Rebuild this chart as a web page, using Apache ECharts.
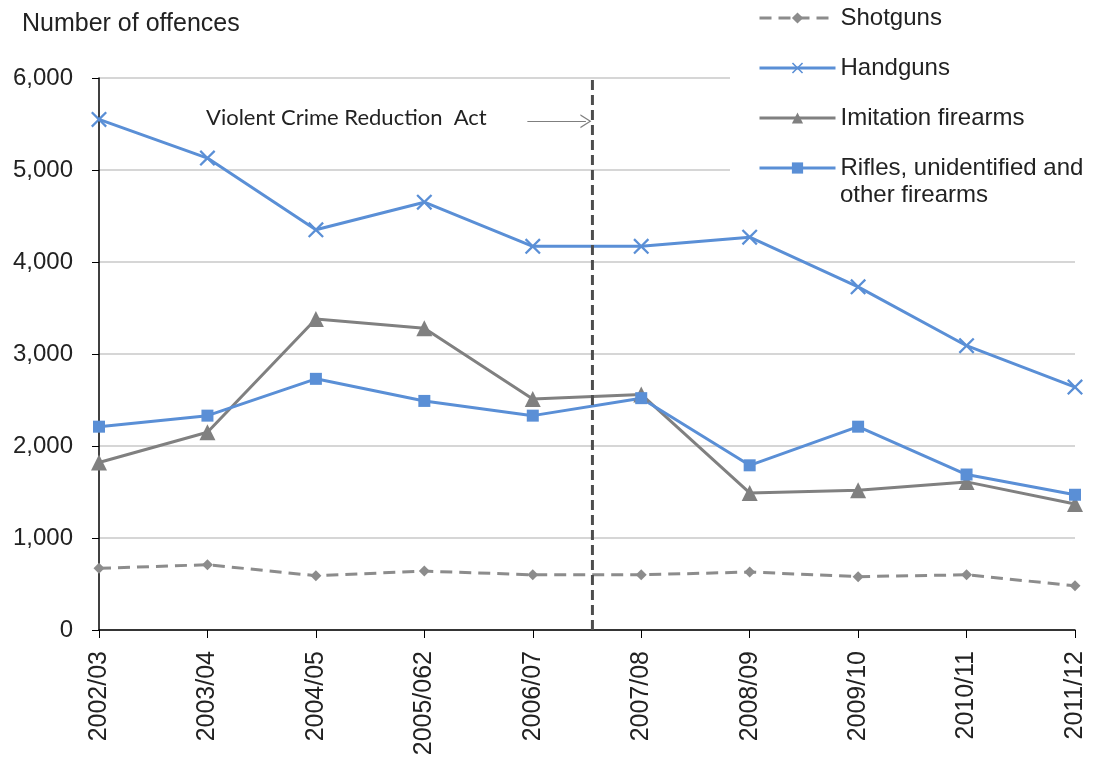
<!DOCTYPE html>
<html>
<head>
<meta charset="utf-8">
<script src="https://cdn.jsdelivr.net/npm/echarts@6/dist/echarts.min.js"></script>
<style>
  html, body { margin: 0; padding: 0; background: #fff; }
  #chart { width: 1103px; height: 764px; }
</style>
</head>
<body>
<div id="chart"></div>
<script>
// categories (financial years)
const years = ['2002/03', '2003/04', '2004/05', '2005/062', '2006/07', '2007/08', '2008/09', '2009/10', '2010/11', '2011/12'];

// series values
const shotguns = [670, 710, 590, 640, 600, 600, 630, 580, 600, 480];
const handguns = [5550, 5130, 4350, 4650, 4170, 4170, 4270, 3730, 3090, 2640];
const imitation = [1820, 2150, 3380, 3280, 2510, 2560, 1490, 1520, 1610, 1370];
const rifles = [2210, 2330, 2730, 2490, 2330, 2520, 1790, 2210, 1690, 1470];

// the act marker sits a little past the middle of 2006/07 and 2007/08
const actPosition = 4.55;
const arrowFrom = [3.95, 5530];
const arrowTo = [4.49, 5530];

const riflesName = 'Rifles, unidentified and other firearms';

const blue = '#5a8fd6';
const grey = '#808080';
const font = '"Liberation Sans", Arial, sans-serif';

const crossPath = 'path://M0,1L1,0L5,4L9,0L10,1L6,5L10,9L9,10L5,6L1,10L0,9L4,5Z';
const openArrow = 'path://M5,0L10,10L9,10L5,2L1,10L0,10Z';

const myChart = echarts.init(document.getElementById('chart'));

const option = {
    animation: false,
    textStyle: { fontFamily: font },
    grid: { left: 99, right: 28, top: 78, bottom: 134 },
    legend: {
        data: ['Shotguns', 'Handguns', 'Imitation firearms', riflesName],
        orient: 'vertical',
        left: 730,
        top: 0,
        padding: [3, 80, 14, 28],
        backgroundColor: '#fff',
        itemWidth: 76,
        itemHeight: 14,
        itemGap: 20,
        z: 10,
        lineStyle: { width: 3 },
        formatter: name => name === riflesName ? 'Rifles, unidentified and' : name,
        textStyle: { fontSize: 24, color: '#222', fontFamily: font, lineHeight: 30 }
    },
    graphic: [
        {
            type: 'text',
            left: 22,
            top: 12,
            style: { text: 'Number of offences', fontSize: 25, fill: '#222', fontFamily: font }
        },
        {
            type: 'text',
            left: 840,
            top: 183,
            z: 20,
            style: { text: 'other firearms', fontSize: 24, fill: '#222', fontFamily: font }
        },
        {
            type: 'text',
            left: 206,
            top: 107,
            style: { text: 'Violent Crime Reduction  Act', fontSize: 22, fill: '#222', fontFamily: 'Lato, "Open Sans", sans-serif' }
        }
    ],
    xAxis: [
        {
            type: 'category',
            data: years,
            boundaryGap: false,
            axisLine: { lineStyle: { color: '#000', width: 1.5 } },
            axisTick: { length: 8, lineStyle: { color: '#000' } },
            axisLabel: { rotate: 90, fontSize: 25, color: '#222', margin: 21 },
            splitLine: { show: false }
        },
        {
            type: 'value',
            min: 0,
            max: years.length - 1,
            show: false
        }
    ],
    yAxis: {
        type: 'value',
        min: 0,
        max: 6000,
        interval: 1000,
        axisLine: { show: true, lineStyle: { color: '#000', width: 1.5 } },
        axisTick: { show: true, length: 7, lineStyle: { color: '#000' } },
        axisLabel: {
            fontSize: 24,
            color: '#222',
            margin: 26,
            formatter: v => v.toLocaleString('en-US')
        },
        splitLine: { lineStyle: { color: '#c8c8c8', width: 1.5 } }
    },
    series: [
        {
            name: 'Shotguns',
            type: 'line',
            data: shotguns,
            symbol: 'diamond',
            symbolSize: 11,
            showAllSymbol: true,
            lineStyle: { color: '#8c8c8c', width: 3, type: [12, 7] },
            itemStyle: { color: '#8c8c8c' }
        },
        {
            name: 'Handguns',
            type: 'line',
            data: handguns,
            symbol: crossPath,
            symbolSize: 16,
            showAllSymbol: true,
            lineStyle: { color: blue, width: 3 },
            itemStyle: { color: blue }
        },
        {
            name: 'Imitation firearms',
            type: 'line',
            data: imitation,
            symbol: 'triangle',
            symbolSize: 16,
            showAllSymbol: true,
            lineStyle: { color: grey, width: 3 },
            itemStyle: { color: grey }
        },
        {
            name: riflesName,
            type: 'line',
            data: rifles,
            symbol: 'rect',
            symbolSize: 12,
            showAllSymbol: true,
            lineStyle: { color: blue, width: 3 },
            itemStyle: { color: blue }
        },
        {
            // act marker: dashed vertical line plus the arrow pointing at it
            name: 'act',
            type: 'line',
            xAxisIndex: 1,
            data: [[actPosition, 0], [actPosition, 6000]],
            symbol: 'none',
            silent: true,
            lineStyle: { color: '#4d4d4d', width: 3, type: [10, 5] },
            markLine: {
                silent: true,
                symbol: ['none', openArrow],
                symbolSize: [14, 11],
                label: { show: false },
                lineStyle: { color: '#7f7f7f', width: 1.2, type: 'solid' },
                data: [[{ coord: arrowFrom }, { coord: arrowTo }]]
            }
        }
    ]
};

myChart.setOption(option);
</script>
</body>
</html>
